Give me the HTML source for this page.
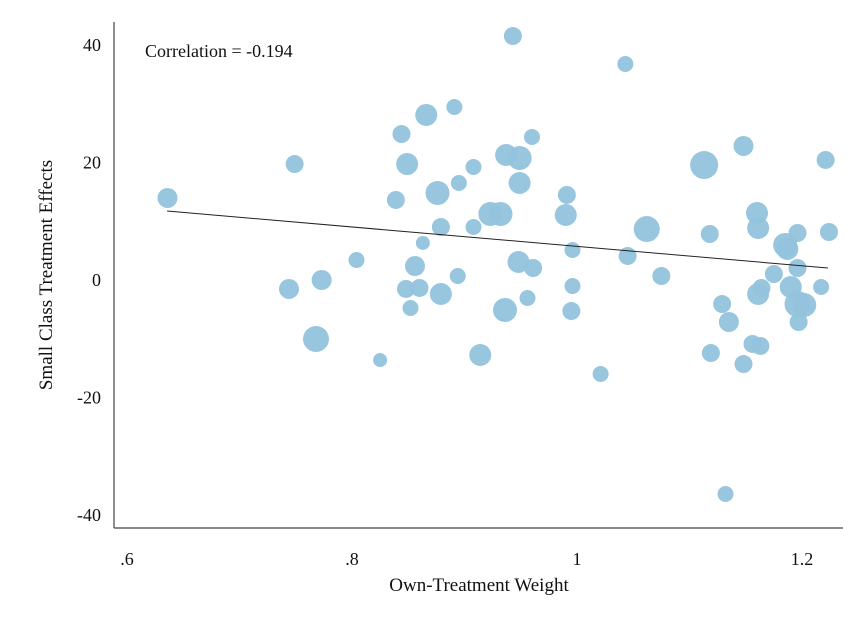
<!DOCTYPE html>
<html><head><meta charset="utf-8"><style>
html,body{margin:0;padding:0;background:#fff;}
svg{display:block;font-family:"Liberation Serif",serif;}
</style></head><body>
<svg id="chart" width="866" height="630">
<g id="points"></g>
<line id="fit" stroke="#222" stroke-width="1"/>
<line x1="114" y1="22" x2="114" y2="528" stroke="#444" stroke-width="1.2"/>
<line x1="114" y1="528" x2="843" y2="528" stroke="#444" stroke-width="1.2"/>
<g id="xticks"></g>
<g id="yticks"></g>
<text x="145" y="57" font-size="18" fill="#111">Correlation = -0.194</text>
<text x="479" y="591" font-size="19" text-anchor="middle" fill="#111">Own-Treatment Weight</text>
<text transform="translate(52,275) rotate(-90)" font-size="19" text-anchor="middle" fill="#111">Small Class Treatment Effects</text>
</svg>
<script>
const xs=[.636,.749,.744,.773,.768,.804,.825,.839,.844,.849,.866,.891,.876,.895,.908,.879,.863,.856,.848,.860,.852,.879,.894,.908,.923,.932,.914,.943,.937,.949,.960,.949,.936,.948,.961,.956,.991,.990,.996,.996,.995,1.021,1.043,1.045,1.062,1.075,1.113,1.148,1.118,1.129,1.135,1.119,1.148,1.160,1.161,1.163,1.175,1.161,1.164,1.185,1.196,1.187,1.196,1.190,1.196,1.202,1.197,1.217,1.221,1.224,1.132,1.156];
const ys=[13.96,19.74,-1.53,0,-10.04,3.40,-13.62,13.62,24.85,19.74,28.09,29.45,14.81,16.51,19.23,9.02,6.30,2.38,-1.53,-1.36,-4.77,-2.38,0.68,9.02,11.23,11.23,-12.77,41.53,21.28,20.77,24.34,16.51,-5.11,3.06,2.04,-3.06,14.47,11.06,5.11,-1.02,-5.28,-16.0,36.77,4.09,8.68,0.68,19.57,22.81,7.83,-4.09,-7.15,-12.43,-14.30,11.40,8.85,-11.23,1.02,-2.38,-1.36,5.96,8.0,5.28,2.04,-1.19,-4.09,-4.26,-7.15,-1.19,20.43,8.17,-36.43,-10.89];
const weights=[100,81,100,100,169,64,49,81,81,121,121,64,144,64,64,81,49,100,81,81,64,121,64,64,144,144,121,81,121,144,64,121,144,121,81,64,81,121,64,64,81,64,64,81,169,81,196,100,81,81,100,81,81,121,121,81,81,121,81,144,81,121,81,121,169,144,81,64,81,81,64,81];
const xTicks=[0.6,0.8,1.0,1.2];
const xTickLabels=[".6",".8","1","1.2"];
const yTicks=[40,20,0,-20,-40];
const yTickLabels=["40","20","0","-20","-40"];
const fitX=[0.6356,1.2231];
const fitY=[11.74,2.04];
const NS="http://www.w3.org/2000/svg";
const sx=v=>127+(v-0.6)*1125;
const sy=v=>280-v*5.875;
const pg=document.getElementById('points');
for(let i=0;i<xs.length;i++){
  const c=document.createElementNS(NS,'circle');
  c.setAttribute('cx',sx(xs[i]));c.setAttribute('cy',sy(ys[i]));
  c.setAttribute('r',Math.sqrt(weights[i]));
  c.setAttribute('fill','#92c3dc');c.setAttribute('fill-opacity','0.95');
  
  
  pg.appendChild(c);
}
const f=document.getElementById('fit');
f.setAttribute('x1',sx(fitX[0]));f.setAttribute('y1',sy(fitY[0]));
f.setAttribute('x2',sx(fitX[1]));f.setAttribute('y2',sy(fitY[1]));
const xg=document.getElementById('xticks');
xTicks.forEach((v,i)=>{
  const t=document.createElementNS(NS,'text');
  t.setAttribute('x',sx(v));t.setAttribute('y',565);
  t.setAttribute('text-anchor','middle');t.setAttribute('font-size','18');t.setAttribute('fill','#111');
  t.textContent=xTickLabels[i];
  
  
  xg.appendChild(t);
});
const yg=document.getElementById('yticks');
yTicks.forEach((v,i)=>{
  const t=document.createElementNS(NS,'text');
  t.setAttribute('x',101);t.setAttribute('y',sy(v)+6);
  t.setAttribute('text-anchor','end');t.setAttribute('font-size','18');t.setAttribute('fill','#111');
  t.textContent=yTickLabels[i];
  
  
  yg.appendChild(t);
});
</script>
</body></html>
